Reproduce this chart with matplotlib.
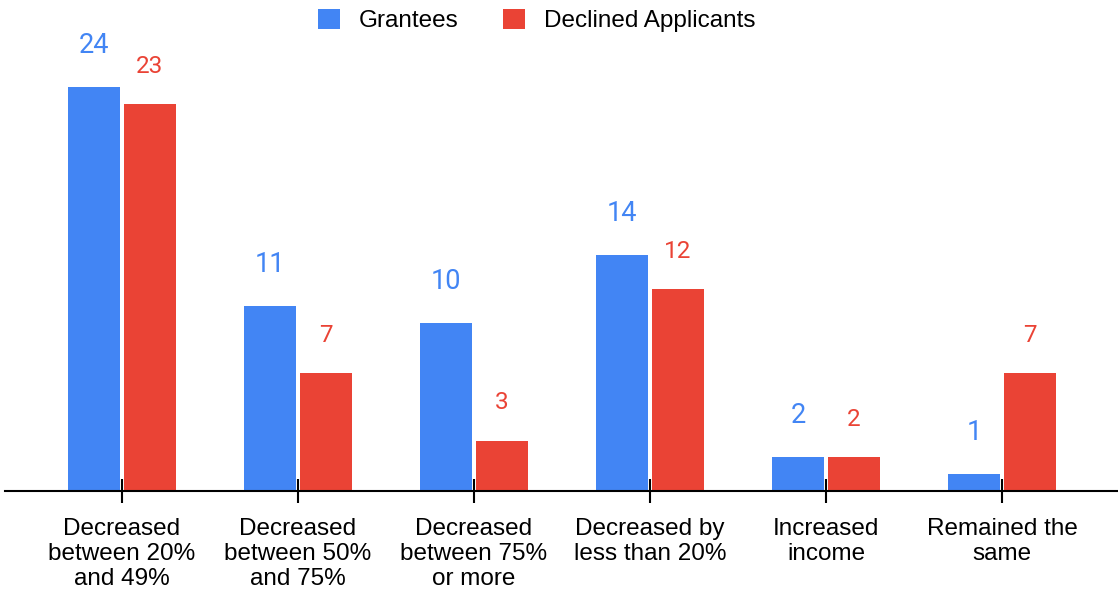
import matplotlib.pyplot as plt
import numpy as np

plt.rcParams['font.family'] = ['Liberation Sans', 'DejaVu Sans']

categories = ["Decreased\nbetween 20%\nand 49%", "Decreased\nbetween 50%\nand 75%",
              "Decreased\nbetween 75%\nor more", "Decreased by\nless than 20%",
              "Increased\nincome", "Remained the\nsame"]
grantees = [24, 11, 10, 14, 2, 1]
declined = [23, 7, 3, 12, 2, 7]

blue = '#4285F4'
red = '#EA4335'

fig = plt.figure(figsize=(11.18, 5.91), dpi=100)
ax = fig.add_axes([5 / 1118, 1 - 491 / 591, 1113 / 1118, 491 / 591])

x = np.arange(len(categories))
w = 52 / 176
gap = 2 / 176
b1 = ax.bar(x - w / 2 - gap, grantees, w, color=blue, label='Grantees')
b2 = ax.bar(x + w / 2 + gap, declined, w, color=red, label='Declined Applicants')

for bar, v in zip(b1, grantees):
    ax.annotate(str(v), (bar.get_x() + bar.get_width() / 2, v), xytext=(0, 24.5),
                textcoords='offset points', ha='center', va='baseline',
                color=blue, fontsize=19.5, family=['Roboto', 'DejaVu Sans'])
for bar, v in zip(b2, declined):
    ax.annotate(str(v), (bar.get_x() + bar.get_width() / 2, v), xytext=(0, 22.5),
                textcoords='offset points', ha='center', va='baseline',
                color=red, fontsize=17.5, family=['Roboto', 'DejaVu Sans'])

ax.set_xlim((5 - 122) / 176, (1118 - 122) / 176)
ax.set_ylim(0, 491 / 16.83)
ax.set_xticks(x)
ax.set_xticklabels(categories, fontsize=17.5, linespacing=1.16)
ax.tick_params(axis='x', direction='inout', length=17, width=1.5, pad=11)
ax.set_yticks([])
for s in ['top', 'right', 'left']:
    ax.spines[s].set_visible(False)
ax.spines['bottom'].set_linewidth(1.5)

fig.legend(loc='upper center', bbox_to_anchor=(0.48, 1.022), ncol=2, frameon=False,
           fontsize=17.5, handlelength=0.9, handleheight=0.9, columnspacing=1.8,
           handletextpad=0.8)

fig.savefig('out.png', dpi=100)
